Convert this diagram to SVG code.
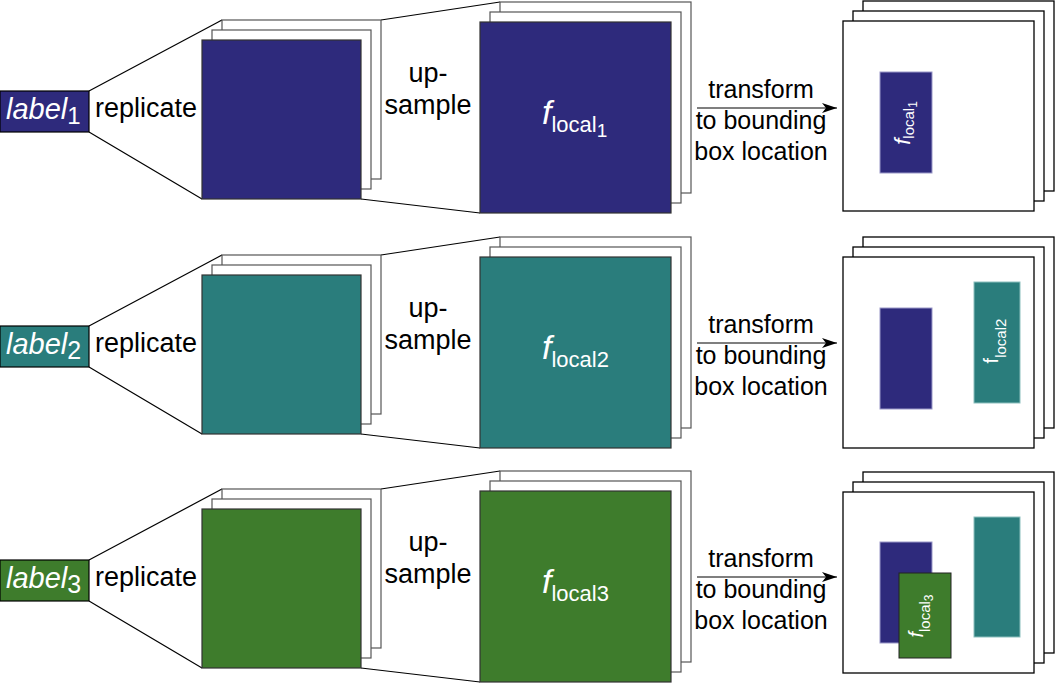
<svg xmlns="http://www.w3.org/2000/svg" width="1055" height="683" viewBox="0 0 1055 683">
<style>
text{font-family:"Liberation Sans",Arial,sans-serif;}
.t{font-size:27px;fill:#000;}
.tr{font-size:25px;fill:#000;text-anchor:middle;}
.w{fill:#fff;}
.lbl{font-size:29px;fill:#fff;}
.back{fill:#fff;stroke:#555;stroke-width:1.2;}
.bk{fill:#fff;stroke:#000;stroke-width:1.3;}
.navy{fill:#2e2a7c;}
.teal{fill:#2a7d7c;}
.green{fill:#3e7c2c;}
.fr{stroke:#333;stroke-width:1.2;}
.lb{stroke:#000;stroke-width:1.2;}
.in1{stroke:#9a98c8;stroke-width:1;}
.in2{stroke:#8cc0be;stroke-width:1;}
.in3{stroke:#222;stroke-width:1;}
.con{stroke:#000;stroke-width:1.2;fill:none;}
.arr{stroke:#000;stroke-width:1.2;fill:none;marker-end:url(#ah);}
</style>
<defs>
<marker id="ah" markerUnits="userSpaceOnUse" markerWidth="16" markerHeight="12" refX="15" refY="5" orient="auto">
<path d="M0,0 L15,5 L0,10 L4,5 z" fill="#000"/>
</marker>
</defs>

<g id="connectors">
<line class="con" x1="89" y1="91" x2="222" y2="20"/>
<line class="con" x1="89" y1="132" x2="202" y2="199"/>
<line class="con" x1="381" y1="20" x2="500" y2="2"/>
<line class="con" x1="361" y1="199" x2="480" y2="213"/>
<line class="arr" x1="697" y1="108" x2="837" y2="108"/>

<line class="con" x1="89" y1="326" x2="222" y2="255"/>
<line class="con" x1="89" y1="367" x2="202" y2="434"/>
<line class="con" x1="381" y1="255" x2="500" y2="237"/>
<line class="con" x1="361" y1="434" x2="480" y2="448"/>
<line class="arr" x1="697" y1="343" x2="837" y2="343"/>

<line class="con" x1="89" y1="560" x2="222" y2="489"/>
<line class="con" x1="89" y1="601" x2="202" y2="668"/>
<line class="con" x1="381" y1="489" x2="500" y2="471"/>
<line class="con" x1="361" y1="668" x2="480" y2="682"/>
<line class="arr" x1="697" y1="577" x2="837" y2="577"/>
</g>

<!-- Row 1 -->
<g id="label1">
<rect class="navy lb" x="0" y="91" width="89" height="41"/>
<text class="lbl" x="6" y="119"><tspan font-style="italic">label</tspan><tspan font-size="24" dy="5">1</tspan></text>
</g>
<g id="replicate1"><text class="t" x="95" y="117">replicate</text></g>
<g id="stack1">
<rect class="back" x="222" y="20" width="159" height="159"/>
<rect class="back" x="212" y="30" width="159" height="159"/>
<rect class="navy fr" x="202" y="40" width="159" height="159"/>
</g>
<g id="upsample1"><text class="t" text-anchor="middle"><tspan x="428" y="82">up-</tspan><tspan x="428" y="114">sample</tspan></text></g>
<g id="local1">
<rect class="back" x="500" y="2" width="191" height="191"/>
<rect class="back" x="490" y="12" width="191" height="191"/>
<rect class="navy fr" x="480" y="22" width="191" height="191"/>
<text class="w" x="542" y="124"><tspan font-style="italic" font-size="34">f</tspan><tspan font-size="22" dy="8">local</tspan><tspan font-size="19" dy="5">1</tspan></text>
</g>
<g id="transform1"><text class="tr"><tspan x="761" y="98">transform</tspan><tspan x="761" y="129">to bounding</tspan><tspan x="761" y="160">box location</tspan></text></g>
<g id="map1">
<rect class="bk" x="863" y="1" width="191" height="190"/>
<rect class="bk" x="853" y="11" width="191" height="190"/>
<rect class="bk" x="843" y="21" width="191" height="190"/>
<rect class="navy in1" x="880" y="72" width="52" height="101"/>
<text class="w" text-anchor="middle" transform="translate(910,123) rotate(-90)"><tspan font-style="italic" font-size="22">f</tspan><tspan font-size="15" dy="4">local</tspan><tspan font-size="12" dy="3">1</tspan></text>
</g>

<!-- Row 2 -->
<g id="label2">
<rect class="teal lb" x="0" y="326" width="89" height="41"/>
<text class="lbl" x="6" y="354"><tspan font-style="italic">label</tspan><tspan font-size="25" dy="5">2</tspan></text>
</g>
<g id="replicate2"><text class="t" x="95" y="352">replicate</text></g>
<g id="stack2">
<rect class="back" x="222" y="255" width="159" height="159"/>
<rect class="back" x="212" y="265" width="159" height="159"/>
<rect class="teal fr" x="202" y="275" width="159" height="159"/>
</g>
<g id="upsample2"><text class="t" text-anchor="middle"><tspan x="428" y="317">up-</tspan><tspan x="428" y="349">sample</tspan></text></g>
<g id="local2">
<rect class="back" x="500" y="237" width="191" height="191"/>
<rect class="back" x="490" y="247" width="191" height="191"/>
<rect class="teal fr" x="480" y="257" width="191" height="191"/>
<text class="w" x="542" y="359"><tspan font-style="italic" font-size="34">f</tspan><tspan font-size="22" dy="8">local2</tspan></text>
</g>
<g id="transform2"><text class="tr"><tspan x="761" y="333">transform</tspan><tspan x="761" y="364">to bounding</tspan><tspan x="761" y="395">box location</tspan></text></g>
<g id="map2">
<rect class="bk" x="863" y="237" width="191" height="191"/>
<rect class="bk" x="853" y="247" width="191" height="191"/>
<rect class="bk" x="843" y="257" width="191" height="191"/>
<rect class="navy in1" x="880" y="308" width="52" height="101"/>
<rect class="teal in2" x="974" y="282" width="46" height="121"/>
<text class="w" text-anchor="middle" transform="translate(998,341) rotate(-90)"><tspan font-size="20">f</tspan><tspan font-size="15" dy="8">local2</tspan></text>
</g>

<!-- Row 3 -->
<g id="label3">
<rect class="green lb" x="0" y="560" width="89" height="41"/>
<text class="lbl" x="6" y="588"><tspan font-style="italic">label</tspan><tspan font-size="25" dy="5">3</tspan></text>
</g>
<g id="replicate3"><text class="t" x="95" y="586">replicate</text></g>
<g id="stack3">
<rect class="back" x="222" y="489" width="159" height="159"/>
<rect class="back" x="212" y="499" width="159" height="159"/>
<rect class="green fr" x="202" y="509" width="159" height="159"/>
</g>
<g id="upsample3"><text class="t" text-anchor="middle"><tspan x="428" y="551">up-</tspan><tspan x="428" y="583">sample</tspan></text></g>
<g id="local3">
<rect class="back" x="500" y="471" width="191" height="191"/>
<rect class="back" x="490" y="481" width="191" height="191"/>
<rect class="green fr" x="480" y="491" width="191" height="191"/>
<text class="w" x="542" y="593"><tspan font-style="italic" font-size="34">f</tspan><tspan font-size="22" dy="8">local3</tspan></text>
</g>
<g id="transform3"><text class="tr"><tspan x="761" y="567">transform</tspan><tspan x="761" y="598">to bounding</tspan><tspan x="761" y="629">box location</tspan></text></g>
<g id="map3">
<rect class="bk" x="863" y="472" width="191" height="181"/>
<rect class="bk" x="853" y="482" width="191" height="181"/>
<rect class="bk" x="843" y="492" width="191" height="181"/>
<rect class="navy in1" x="880" y="542" width="52" height="101"/>
<rect class="teal in2" x="974" y="517" width="46" height="120"/>
<rect class="green in3" x="899" y="573" width="52" height="85"/>
<text class="w" text-anchor="middle" transform="translate(923,616) rotate(-90)"><tspan font-style="italic" font-size="20">f</tspan><tspan font-size="15" dy="7">local</tspan><tspan font-size="12" dy="3">3</tspan></text>
</g>
</svg>
